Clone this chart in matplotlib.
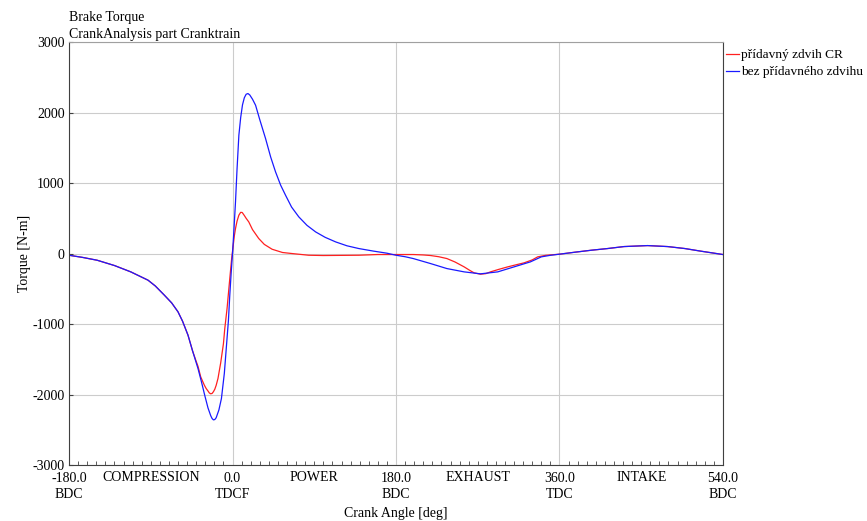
import matplotlib
matplotlib.use("Agg")
import matplotlib.pyplot as plt
import matplotlib.transforms as mtransforms
from matplotlib.ticker import MultipleLocator

plt.rcParams['font.family'] = ['Liberation Serif', 'DejaVu Serif']
plt.rcParams['font.size'] = 10
plt.rcParams['axes.unicode_minus'] = False

# brake torque without extra stroke (blue)
angle_bez = [-180, -165, -149, -130, -112, -93, -85, -75, -67, -60, -55, -49, -44, -38,
             -34, -30.6, -27, -24, -22.5, -21, -19.5, -18, -15, -12.2, -9, -6.6, -4.5,
             -3, -1.5, 0, 1.5, 3.3, 5, 7, 9, 11, 13, 15, 17, 19, 22, 25.4, 30, 36.4, 42,
             47.4, 53, 58.4, 65, 73, 82, 91.5, 102, 113.6, 126, 139, 155, 170, 180, 190,
             199, 218, 236, 255, 273, 292, 310, 328, 340, 350, 360, 377, 395, 413, 431,
             457, 479, 498, 516, 540]
torque_bez = [-24, -55, -95, -170, -260, -378, -460, -591, -700, -827, -960, -1158, -1380,
              -1631, -1830, -2010, -2190, -2300, -2340, -2360, -2355, -2330, -2220, -2057,
              -1700, -1300, -950, -591, -280, 0, 320, 733, 1200, 1678, 1930, 2110, 2210,
              2260, 2270, 2250, 2190, 2104, 1900, 1631, 1370, 1158, 970, 827, 660, 520,
              400, 307, 230, 165, 110, 71, 35, 5, -24, -45, -71, -142, -213, -260, -288,
              -260, -189, -118, -47, -25, -9, 19, 47, 71, 99, 113, 99, 71, 33, -14]

# brake torque with extra CR stroke (red)
angle_cr = [-180, -165, -149, -130, -112, -93, -85, -75, -67, -60, -55, -49, -44, -40,
            -38, -35, -31, -29, -27, -25.5, -24, -22.5, -21, -19.5, -18, -16, -13, -10,
            -8.5, -6, -3, -1, 0, 2, 3.3, 5, 7, 9, 10.7, 13, 15, 17.9, 22, 28.9, 35, 43.6,
            55, 65.6, 83.8, 100, 139, 160, 175, 190, 199, 210, 218, 227, 236, 245, 255,
            262, 266, 273, 279, 284, 293, 303, 312, 321, 330, 336, 345, 360, 377, 395,
            413, 431, 457, 479, 498, 516, 540]
torque_cr = [-24, -55, -95, -170, -260, -378, -460, -591, -700, -827, -960, -1158, -1380,
             -1530, -1600, -1750, -1868, -1915, -1950, -1978, -1990, -1985, -1960, -1925,
             -1870, -1773, -1550, -1280, -1064, -780, -355, -80, 30, 250, 355, 460, 544,
             585, 582, 540, 500, 449, 340, 213, 130, 61, 15, 0, -24, -28, -24, -14, -14,
             -14, -14, -20, -28, -45, -71, -120, -189, -245, -274, -293, -285, -260, -225,
             -189, -160, -132, -90, -47, -25, -9, 19, 47, 71, 99, 113, 99, 71, 33, -14]

major_angles = [-180, 0, 180, 360, 540]
major_labels = ['-180.0\nBDC', '0.0\nTDCF', '180.0\nBDC', '360.0\nTDC', '540.0\nBDC']
phase_centers = [-90, 90, 270, 450]
phase_names = ['COMPRESSION', 'POWER', 'EXHAUST', 'INTAKE']
y_ticks = [-3000, -2000, -1000, 0, 1000, 2000, 3000]

fig = plt.figure(figsize=(8.67, 5.21), dpi=100)
ax = fig.add_axes([0.0796, 0.1075, 0.7543, 0.8117])

ax.plot(angle_cr, torque_cr, color='#ff2020', lw=0.9, label='přídavný zdvih CR')
ax.plot(angle_bez, torque_bez, color='#1a1aff', lw=0.9, label='bez přídavného zdvihu')

ax.set_xlim(-180, 540)
ax.set_ylim(-3000, 3000)
ax.set_xticks(major_angles)
ax.set_xticklabels(major_labels, linespacing=1.35)
ax.set_yticks(y_ticks)
ax.xaxis.set_minor_locator(MultipleLocator(10))
ax.tick_params(axis='x', which='major', length=0, pad=5)
ax.tick_params(axis='x', which='minor', direction='in', length=3, color='#404040')
ax.tick_params(axis='y', which='major', direction='in', length=3, color='#404040', pad=3)
ax.grid(True, color='#cccccc', lw=0.8)
ax.set_axisbelow(True)

for side in ['left', 'bottom', 'right']:
    ax.spines[side].set_color('#404040')
ax.spines['top'].set_color('#a0a0a0')

# stroke names between the dead centres
trans = mtransforms.blended_transform_factory(ax.transData, ax.transAxes)
for xc, name in zip(phase_centers, phase_names):
    ax.text(xc, -0.014, name, transform=trans, ha='center', va='top')

ax.set_xlabel('Crank Angle [deg]', labelpad=4)
ax.set_ylabel('Torque [N-m]', labelpad=1)

fig.text(0.0796, 0.953, 'Brake Torque', ha='left', va='bottom')
fig.text(0.0796, 0.921, 'CrankAnalysis part Cranktrain', ha='left', va='bottom')

ax.legend(loc='upper left', bbox_to_anchor=(1.0, 0.99), frameon=False, fontsize=9.6,
          handlelength=1.0, handletextpad=0.15, borderaxespad=0.0, labelspacing=0.35,
          borderpad=0.2)

fig.savefig('out.png', dpi=100)
